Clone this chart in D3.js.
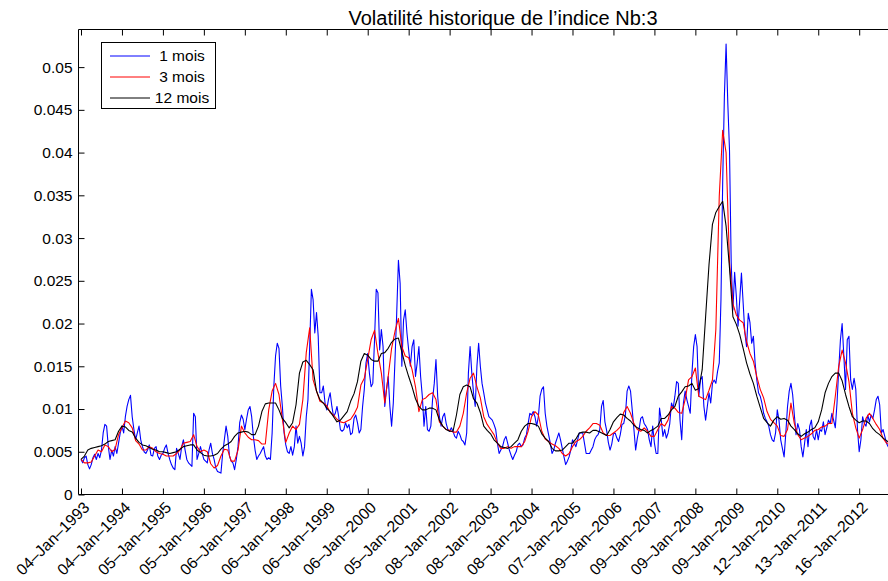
<!DOCTYPE html>
<html>
<head>
<meta charset="utf-8">
<script src="https://cdn.jsdelivr.net/npm/d3@7"></script>
<style>
body{margin:0;background:#fff;}
svg{display:block;}
text{font-family:"Liberation Sans",Arial,Helvetica,sans-serif;fill:#000;}
</style>
</head>
<body>
<script>
// x tick labels, one per year (first trading day)
const tickLabels=["04–Jan–1993","04–Jan–1994","05–Jan–1995","05–Jan–1996","06–Jan–1997",
  "06–Jan–1998","06–Jan–1999","06–Jan–2000","05–Jan–2001","08–Jan–2002","08–Jan–2003",
  "08–Jan–2004","07–Jan–2005","09–Jan–2006","09–Jan–2007","09–Jan–2008","09–Jan–2009",
  "12–Jan–2010","13–Jan–2011","16–Jan–2012"];
const yTicks=[0,0.005,0.01,0.015,0.02,0.025,0.03,0.035,0.04,0.045,0.05];

// volatility in 1e-3 units
// 1 mois: one value every half month from 04-Jan-1993
const vol1m=[
4.1,3.7,4.3,4.5,3.5,3.0,3.5,4.3,4.7,4.1,4.8,4.3,
5.2,7.2,8.2,8.0,5.6,4.1,5.2,4.5,5.6,4.8,6.0,7.2,
8.0,7.2,9.1,10.3,11.1,11.6,9.1,7.6,6.4,7.2,8.0,6.4,
5.6,5.0,4.8,5.2,5.8,4.6,4.5,5.4,5.6,4.5,4.1,4.6,
4.8,5.4,5.8,4.8,4.1,3.5,3.1,2.9,5.4,4.8,4.1,5.6,
6.4,5.2,4.1,3.7,3.5,3.3,9.5,9.1,4.1,4.8,5.6,4.8,
4.1,3.9,3.7,5.2,6.0,4.8,4.1,3.1,2.7,2.6,2.5,4.8,
6.4,8.0,6.8,4.5,3.9,3.7,2.9,4.1,5.6,8.4,9.3,8.8,
7.6,8.8,9.9,10.3,9.1,6.8,5.2,4.1,4.5,4.8,5.2,5.6,
4.5,4.1,4.3,4.1,7.2,12.7,16.2,17.7,17.1,12.7,10.3,7.2,
5.8,5.0,4.8,5.6,4.6,5.6,8.0,6.0,6.8,6.0,4.5,5.6,
9.1,11.1,17.3,24.0,22.8,18.9,21.3,18.5,11.9,11.9,12.7,10.7,
9.9,11.1,11.9,10.3,9.1,9.5,10.3,9.1,7.6,7.4,7.6,8.4,
7.8,8.2,7.0,7.2,8.9,9.3,8.4,7.2,7.6,10.3,12.3,15.4,
16.5,14.2,12.6,13.0,18.1,24.0,23.6,16.9,19.3,17.3,10.3,12.3,
13.8,10.3,8.0,10.7,15.8,21.2,27.4,24.7,15.0,20.4,21.6,18.9,
16.9,15.0,17.3,18.1,13.8,15.4,17.3,13.8,11.5,8.0,10.3,7.6,
7.4,8.0,11.1,13.0,15.8,11.5,9.1,8.0,9.1,9.5,8.3,7.6,
7.4,7.8,7.4,6.8,6.6,7.4,7.0,6.4,6.2,5.8,7.2,14.2,
17.3,14.2,11.9,10.3,15.0,17.7,15.0,13.0,11.9,10.7,9.9,9.1,
8.9,8.7,8.2,7.6,6.0,4.8,5.2,5.6,6.4,6.8,6.0,5.2,
4.6,4.1,4.6,5.0,5.8,6.0,5.6,5.8,6.6,7.0,8.3,9.5,
9.3,9.7,9.1,8.0,9.1,11.5,12.3,12.6,9.5,8.0,7.0,6.0,
4.8,5.2,6.0,6.6,7.2,6.4,5.4,4.4,3.5,3.9,4.4,5.2,
6.4,6.0,5.6,6.4,7.2,7.2,7.2,6.0,4.8,4.8,4.8,5.2,
5.6,6.4,6.8,7.0,7.6,10.3,11.0,8.5,7.5,6.1,5.2,5.9,
7.1,7.2,6.6,6.2,7.0,8.2,8.3,9.3,12.1,12.7,12.1,9.9,
7.6,5.2,6.6,7.6,8.9,9.1,8.3,8.0,7.6,6.4,5.6,8.0,
6.0,4.8,4.8,10.1,8.7,6.8,7.6,6.6,7.2,8.3,10.7,10.1,
11.5,13.2,13.0,8.7,6.4,10.7,12.1,11.1,10.3,9.5,14.2,17.3,
18.7,17.3,11.5,13.4,13.8,10.3,8.7,10.3,11.9,10.7,13.0,13.4,
13.0,14.4,15.4,22.8,36.4,46.6,52.7,45.8,40.3,27.1,21.6,26.0,
23.2,19.7,22.8,25.9,22.4,18.9,17.3,21.2,20.1,17.7,18.5,15.4,
13.4,11.9,11.5,10.7,9.5,8.9,8.5,8.0,7.0,6.4,6.2,7.2,
9.9,8.7,6.4,5.4,4.4,7.2,10.3,12.1,13.0,11.7,9.3,7.0,
8.3,7.6,5.6,4.4,6.0,7.6,5.6,8.0,8.7,6.8,6.4,7.6,
6.4,7.6,7.4,8.5,7.0,7.8,8.7,8.3,9.5,8.7,7.8,10.7,
14.6,18.1,20.0,16.2,12.3,18.1,18.5,13.4,12.3,13.6,12.3,7.6,
5.0,6.4,9.1,8.3,8.0,9.3,8.5,9.3,8.9,9.9,11.1,11.5,
10.5,7.2,7.6,6.8,6.0,5.6,5.6,5.4];

// 3 mois: one value per month
const vol3m=[
4.1,3.7,3.7,3.8,4.5,5.2,5.0,5.8,5.6,5.0,5.3,7.0,
7.8,8.6,8.4,7.8,6.3,5.9,5.2,5.2,5.6,5.4,5.0,4.8,
4.7,4.5,4.5,4.5,4.8,5.2,6.0,6.1,6.2,7.0,5.6,5.0,
5.2,5.0,3.6,3.1,3.4,4.5,5.3,5.2,3.9,3.9,5.2,8.0,
7.2,6.7,6.4,6.4,6.3,5.9,5.9,9.9,12.1,13.0,11.7,8.8,
6.1,7.2,8.0,7.6,8.2,11.1,16.6,19.5,13.4,12.1,10.9,10.7,
10.4,9.6,9.3,8.8,8.5,8.4,8.6,8.8,9.4,10.2,12.8,13.6,
15.8,18.1,19.2,16.5,14.2,10.7,13.8,17.1,19.1,20.6,17.3,16.2,
16.0,14.6,12.6,9.7,11.1,11.3,11.7,11.9,11.1,8.5,8.0,7.6,
7.5,7.3,7.3,8.0,9.5,11.9,13.6,14.2,12.6,11.3,9.1,8.2,
7.6,7.0,6.0,5.4,5.4,5.6,5.4,5.6,5.6,5.6,6.2,7.4,
9.1,9.7,9.3,7.4,6.5,6.2,5.9,5.7,5.4,4.8,4.5,4.8,
5.6,6.2,6.4,6.8,7.4,7.8,8.3,8.3,8.1,7.2,6.9,6.9,
7.2,7.5,7.9,9.6,10.3,9.5,8.3,7.6,7.4,7.8,7.4,6.8,
6.8,7.6,8.3,8.0,8.7,10.3,10.1,9.6,9.5,11.1,13.4,13.8,
14.8,11.5,11.3,11.1,12.2,13.4,19.3,34.9,42.6,40.0,27.1,22.3,
21.0,20.4,20.1,17.9,16.5,15.6,13.8,12.3,11.3,9.7,8.8,8.4,
8.0,6.9,6.8,7.6,10.7,8.3,7.0,6.4,6.6,6.8,7.1,7.5,
7.6,7.9,8.0,8.3,8.3,11.5,15.0,16.9,15.4,13.2,9.5,7.8,
6.6,7.6,8.9,9.5,8.9,8.2,7.6,6.6,6.0,6.0];

// 12 mois: one value per month
const vol12m=[
4.1,4.5,5.2,5.4,5.5,5.6,5.7,5.9,6.2,6.3,6.4,7.4,
8.0,7.9,7.5,7.3,6.6,6.1,5.8,5.7,5.5,5.3,5.2,5.0,
5.0,4.9,4.8,4.9,5.0,5.3,5.6,5.7,5.8,5.8,5.2,4.9,
4.6,4.5,4.5,4.6,4.8,5.3,5.7,5.9,6.2,6.8,7.2,7.3,
7.4,7.3,7.0,7.0,8.0,9.7,10.6,10.7,10.7,10.7,9.9,8.9,
8.4,7.8,8.4,10.5,14.2,15.5,15.7,15.2,14.6,12.1,11.1,10.7,
10.1,9.7,9.1,8.5,8.7,9.2,9.7,10.9,11.8,13.2,15.6,16.5,
16.3,15.8,15.6,15.6,16.5,16.6,17.1,17.8,18.2,18.3,16.7,15.1,
13.8,12.6,11.2,10.3,9.9,9.9,10.1,10.1,9.9,8.7,8.0,7.6,
7.4,7.4,9.3,11.7,12.6,12.8,12.6,11.2,10.7,9.6,8.0,7.5,
7.1,6.4,6.0,5.6,5.5,5.4,5.6,6.0,6.4,7.4,8.0,8.3,
8.3,8.2,8.0,7.1,6.6,6.2,5.4,5.1,5.1,5.2,5.6,6.0,
6.0,6.5,7.2,7.3,7.3,7.2,7.5,7.5,7.3,7.1,6.9,7.6,
8.5,9.0,9.4,9.3,8.9,8.6,8.1,7.8,7.6,7.5,7.2,7.5,
7.7,8.0,8.9,8.9,9.3,9.9,10.3,11.5,12.0,12.6,12.7,13.0,
12.2,12.4,14.6,20.8,26.9,31.6,33.0,33.7,34.3,31.4,26.5,20.8,
19.9,18.7,17.1,15.4,14.1,13.0,11.5,10.2,8.9,8.4,8.0,8.7,
9.1,8.8,8.9,8.7,8.0,7.6,7.1,6.8,7.1,7.3,7.6,7.8,
8.5,9.9,11.9,13.0,13.8,14.2,14.2,13.3,11.7,10.3,9.1,8.7,
8.4,8.6,8.6,8.3,7.7,7.3,7.0,6.6,6.3,6.0];

const series=[
  {name:"1 mois",values:vol1m,step:1/24,color:"#0000ff"},
  {name:"3 mois",values:vol3m,step:1/12,color:"#ff0000"},
  {name:"12 mois",values:vol12m,step:1/12,color:"#000000"}
];

let W=888,H=581;
let axL=78.5,axR=927.5,axT=29.5,axB=494.5;

// years since 04-Jan-1993 -> pixels
let x=d3.scaleLinear().domain([0,19]).range([81,859.2]);
let y=d3.scaleLinear().domain([0,0.0544]).range([axB,axT]);

let svg=d3.select("body").append("svg").attr("width",W).attr("height",H);

svg.append("defs").append("clipPath").attr("id","clip")
  .append("rect").attr("x",axL).attr("y",axT).attr("width",axR-axL).attr("height",axB-axT);

let line=d3.line().x(d=>x(d.t)).y(d=>y(d.v));
let g_lines=svg.append("g").attr("clip-path","url(#clip)");
series.forEach(s=>{
  let pts=s.values.map((v,i)=>({t:i*s.step,v:v/1000}));
  g_lines.append("path").datum(pts)
    .attr("d",line)
    .attr("fill","none")
    .attr("stroke",s.color)
    .attr("stroke-width",1.1)
    .attr("stroke-linejoin","round");
});

// box
svg.append("path")
  .attr("d",`M${axR},${axT}H${axL}V${axB}H${axR}`)
  .attr("fill","none").attr("stroke","#000").attr("stroke-width",1);

// y axis
let yAxis=d3.axisLeft(y).tickValues(yTicks)
  .tickSizeInner(-6).tickSizeOuter(0).tickPadding(6)
  .tickFormat(d=>String(+d.toFixed(3)));
let gy=svg.append("g").attr("transform",`translate(${axL},0)`).call(yAxis);
gy.select(".domain").remove();
gy.selectAll("text").attr("font-size",15.5).attr("font-family",null);

// x axis bottom
let xAxis=d3.axisBottom(x).tickValues(d3.range(0,tickLabels.length))
  .tickSizeInner(-6).tickSizeOuter(0)
  .tickFormat((d,i)=>tickLabels[i]);
let gx=svg.append("g").attr("transform",`translate(0,${axB})`).call(xAxis);
gx.select(".domain").remove();
gx.selectAll("text")
  .attr("font-size",15.8).attr("font-family",null)
  .attr("text-anchor","end")
  .attr("x",0).attr("y",0).attr("dy","0.35em")
  .attr("transform","translate(5,10) rotate(-45)");

// x axis top, ticks only
let gxt=svg.append("g").attr("transform",`translate(0,${axT})`)
  .call(d3.axisTop(x).tickValues(d3.range(0,tickLabels.length)).tickSizeInner(-6).tickSizeOuter(0).tickFormat(""));
gxt.select(".domain").remove();

// title
svg.append("text")
  .attr("x",(axL+axR)/2).attr("y",25)
  .attr("text-anchor","middle")
  .attr("font-size",20)
  .text("Volatilité historique de l’indice Nb:3");

// legend
let lg=svg.append("g");
lg.append("rect").attr("x",101.5).attr("y",42.5).attr("width",114).attr("height",66)
  .attr("fill","#fff").attr("stroke","#000").attr("stroke-width",1);
series.forEach((s,i)=>{
  let ly=56+i*21;
  lg.append("line").attr("x1",110).attr("x2",150).attr("y1",ly).attr("y2",ly)
    .attr("stroke",s.color).attr("stroke-width",1);
  lg.append("text").attr("x",182).attr("y",ly).attr("dy","0.35em")
    .attr("text-anchor","middle").attr("font-size",15.5).text(s.name);
});
</script>
</body>
</html>
